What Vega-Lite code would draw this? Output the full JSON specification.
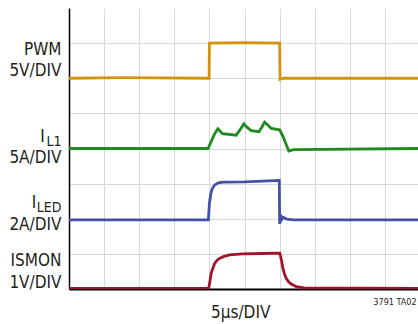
{
  "$schema": "https://vega.github.io/schema/vega-lite/v6.json",
  "width": 349,
  "height": 281,
  "autosize": {"type": "none"},
  "padding": {"left": 69, "top": 8, "right": 0, "bottom": 35},
  "background": "white",
  "config": {"view": {"stroke": null}},
  "datasets": {
    "traces": [
      {"sig": "PWM", "t": 0, "v": 6.0},
      {"sig": "PWM", "t": 1.5, "v": 6.02},
      {"sig": "PWM", "t": 3.99, "v": 6.0},
      {"sig": "PWM", "t": 4.0, "v": 7.0},
      {"sig": "PWM", "t": 5.0, "v": 7.01},
      {"sig": "PWM", "t": 6.0, "v": 7.0},
      {"sig": "PWM", "t": 6.01, "v": 5.97},
      {"sig": "PWM", "t": 6.1, "v": 6.0},
      {"sig": "PWM", "t": 9.94, "v": 6.0},

      {"sig": "IL1", "t": 0, "v": 4.0},
      {"sig": "IL1", "t": 3.96, "v": 4.0},
      {"sig": "IL1", "t": 4.05, "v": 4.2},
      {"sig": "IL1", "t": 4.15, "v": 4.42},
      {"sig": "IL1", "t": 4.24, "v": 4.56},
      {"sig": "IL1", "t": 4.3, "v": 4.5},
      {"sig": "IL1", "t": 4.37, "v": 4.42},
      {"sig": "IL1", "t": 4.76, "v": 4.38},
      {"sig": "IL1", "t": 4.85, "v": 4.5},
      {"sig": "IL1", "t": 4.98, "v": 4.7},
      {"sig": "IL1", "t": 5.05, "v": 4.62},
      {"sig": "IL1", "t": 5.19, "v": 4.51},
      {"sig": "IL1", "t": 5.41, "v": 4.48},
      {"sig": "IL1", "t": 5.5, "v": 4.62},
      {"sig": "IL1", "t": 5.57, "v": 4.75},
      {"sig": "IL1", "t": 5.65, "v": 4.68},
      {"sig": "IL1", "t": 5.76, "v": 4.57},
      {"sig": "IL1", "t": 6.0, "v": 4.53},
      {"sig": "IL1", "t": 6.1, "v": 4.33},
      {"sig": "IL1", "t": 6.2, "v": 4.08},
      {"sig": "IL1", "t": 6.26, "v": 3.93},
      {"sig": "IL1", "t": 6.4, "v": 3.97},
      {"sig": "IL1", "t": 9.94, "v": 4.0},

      {"sig": "ILED", "t": 0, "v": 1.97},
      {"sig": "ILED", "t": 3.97, "v": 1.97},
      {"sig": "ILED", "t": 4.0, "v": 2.45},
      {"sig": "ILED", "t": 4.04, "v": 2.72},
      {"sig": "ILED", "t": 4.08, "v": 2.86},
      {"sig": "ILED", "t": 4.15, "v": 2.96},
      {"sig": "ILED", "t": 4.25, "v": 3.02},
      {"sig": "ILED", "t": 4.4, "v": 3.04},
      {"sig": "ILED", "t": 5.0, "v": 3.05},
      {"sig": "ILED", "t": 5.5, "v": 3.07},
      {"sig": "ILED", "t": 5.99, "v": 3.09},
      {"sig": "ILED", "t": 6.0, "v": 1.85},
      {"sig": "ILED", "t": 6.02, "v": 2.12},
      {"sig": "ILED", "t": 6.06, "v": 1.98},
      {"sig": "ILED", "t": 6.1, "v": 2.04},
      {"sig": "ILED", "t": 6.2, "v": 1.99},
      {"sig": "ILED", "t": 6.4, "v": 1.97},
      {"sig": "ILED", "t": 9.94, "v": 1.97},

      {"sig": "ISMON", "t": 0, "v": 0.02},
      {"sig": "ISMON", "t": 3.98, "v": 0.02},
      {"sig": "ISMON", "t": 4.01, "v": 0.2},
      {"sig": "ISMON", "t": 4.05, "v": 0.45},
      {"sig": "ISMON", "t": 4.1, "v": 0.6},
      {"sig": "ISMON", "t": 4.15, "v": 0.73},
      {"sig": "ISMON", "t": 4.22, "v": 0.82},
      {"sig": "ISMON", "t": 4.29, "v": 0.87},
      {"sig": "ISMON", "t": 4.4, "v": 0.92},
      {"sig": "ISMON", "t": 4.57, "v": 0.97},
      {"sig": "ISMON", "t": 4.94, "v": 1.0},
      {"sig": "ISMON", "t": 5.5, "v": 1.01},
      {"sig": "ISMON", "t": 6.0, "v": 1.02},
      {"sig": "ISMON", "t": 6.02, "v": 0.95},
      {"sig": "ISMON", "t": 6.05, "v": 0.83},
      {"sig": "ISMON", "t": 6.09, "v": 0.6},
      {"sig": "ISMON", "t": 6.14, "v": 0.42},
      {"sig": "ISMON", "t": 6.19, "v": 0.3},
      {"sig": "ISMON", "t": 6.26, "v": 0.2},
      {"sig": "ISMON", "t": 6.33, "v": 0.14},
      {"sig": "ISMON", "t": 6.47, "v": 0.07},
      {"sig": "ISMON", "t": 6.7, "v": 0.03},
      {"sig": "ISMON", "t": 9.94, "v": 0.02}
    ],
    "labels": [
      {"kind": "main", "text": "PWM", "t": -0.214, "v": 6.66},
      {"kind": "main", "text": "5V/DIV", "t": -0.214, "v": 6.07},
      {"kind": "main", "text": "I", "t": -0.69, "v": 4.19},
      {"kind": "sub", "text": "L1", "t": -0.214, "v": 4.08},
      {"kind": "main", "text": "5A/DIV", "t": -0.214, "v": 3.58},
      {"kind": "main", "text": "I", "t": -0.93, "v": 2.30},
      {"kind": "sub", "text": "LED", "t": -0.214, "v": 2.18},
      {"kind": "main", "text": "2A/DIV", "t": -0.214, "v": 1.68},
      {"kind": "main", "text": "ISMON", "t": -0.214, "v": 0.66},
      {"kind": "main", "text": "1V/DIV", "t": -0.214, "v": 0.04},
      {"kind": "bottom", "text": "5µs/DIV", "t": 4.89, "v": -0.83},
      {"kind": "small", "text": "3791 TA02", "t": 9.9, "v": -0.46}
    ]
  },
  "layer": [
    {
      "data": {"name": "traces"},
      "mark": {"type": "line", "strokeWidth": 2.8, "clip": true},
      "encoding": {
        "x": {
          "field": "t", "type": "quantitative",
          "scale": {"domain": [0, 9.94], "nice": false, "zero": false},
          "axis": {
            "values": [1, 2, 3, 4, 5, 6, 7, 8, 9],
            "labels": false, "ticks": false, "title": null,
            "grid": true, "gridColor": "#d9d9d9", "gridWidth": 1,
            "domain": true, "domainColor": "#000000", "domainWidth": 2
          }
        },
        "y": {
          "field": "v", "type": "quantitative",
          "scale": {"domain": [0, 8], "nice": false, "zero": false},
          "axis": {
            "values": [1, 2, 3, 4, 5, 6, 7],
            "labels": false, "ticks": false, "title": null,
            "grid": true, "gridColor": "#d9d9d9", "gridWidth": 1,
            "domain": true, "domainColor": "#000000", "domainWidth": 1.5
          }
        },
        "color": {
          "field": "sig", "type": "nominal",
          "scale": {
            "domain": ["PWM", "IL1", "ILED", "ISMON"],
            "range": ["#d4930e", "#1f8a1f", "#4350a8", "#a3122b"]
          },
          "legend": null
        },
        "order": {"value": null}
      }
    },
    {
      "mark": {"type": "rule", "color": "#000000", "strokeWidth": 1.5},
      "encoding": {"y": {"datum": 8}}
    },
    {
      "data": {"name": "labels"},
      "transform": [{"filter": "datum.kind === 'main'"}],
      "mark": {"type": "text", "align": "right", "baseline": "alphabetic", "font": "DejaVu Sans Condensed, sans-serif", "fontSize": 17, "color": "#231f20"},
      "encoding": {
        "x": {"field": "t", "type": "quantitative"},
        "y": {"field": "v", "type": "quantitative"},
        "text": {"field": "text"}
      }
    },
    {
      "data": {"name": "labels"},
      "transform": [{"filter": "datum.kind === 'sub'"}],
      "mark": {"type": "text", "align": "right", "baseline": "alphabetic", "font": "DejaVu Sans Condensed, sans-serif", "fontSize": 14, "color": "#231f20"},
      "encoding": {
        "x": {"field": "t", "type": "quantitative"},
        "y": {"field": "v", "type": "quantitative"},
        "text": {"field": "text"}
      }
    },
    {
      "data": {"name": "labels"},
      "transform": [{"filter": "datum.kind === 'bottom'"}],
      "mark": {"type": "text", "align": "center", "baseline": "alphabetic", "font": "DejaVu Sans Condensed, sans-serif", "fontSize": 17, "color": "#231f20"},
      "encoding": {
        "x": {"field": "t", "type": "quantitative"},
        "y": {"field": "v", "type": "quantitative"},
        "text": {"field": "text"}
      }
    },
    {
      "data": {"name": "labels"},
      "transform": [{"filter": "datum.kind === 'small'"}],
      "mark": {"type": "text", "align": "right", "baseline": "alphabetic", "font": "DejaVu Sans Condensed, sans-serif", "fontSize": 9, "color": "#231f20"},
      "encoding": {
        "x": {"field": "t", "type": "quantitative"},
        "y": {"field": "v", "type": "quantitative"},
        "text": {"field": "text"}
      }
    }
  ]
}
